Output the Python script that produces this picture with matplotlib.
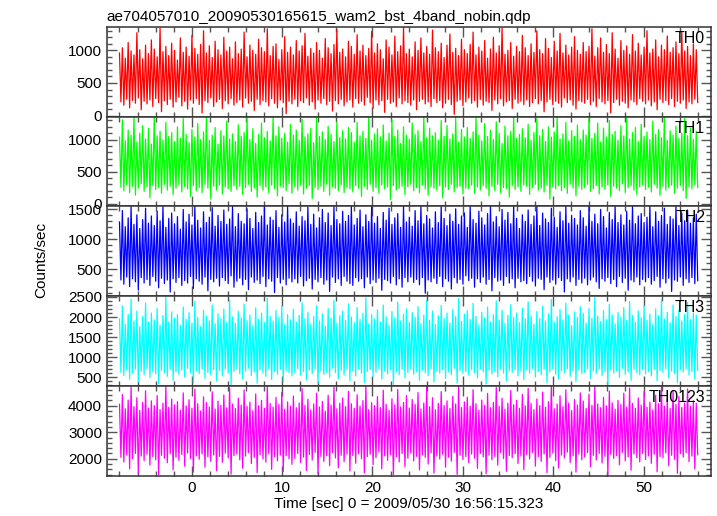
import numpy as np
import matplotlib
matplotlib.use("Agg")
import matplotlib.pyplot as plt
from matplotlib.ticker import MultipleLocator

plt.rcParams['font.family'] = ['Liberation Sans', 'DejaVu Sans']
plt.rcParams['font.size'] = 11

title = "ae704057010_20090530165615_wam2_bst_4band_nobin.qdp"
band_names = ["TH0", "TH1", "TH2", "TH3", "TH0123"]
band_colors = ["#ff0000", "#00ff00", "#0000ff", "#00ffff", "#ff00ff"]
t_start, t_end = -8.0, 56.0

# light curves are far too dense to list bin by bin, so each entry is the
# max / min count rate (counts/sec) seen within a ~0.32 s slice
th0_hi = [960, 1040, 880, 1120, 990, 930, 1270, 1010, 870, 1080, 950, 1160, 1020, 900, 1340, 980, 1060, 920, 1110, 1000,
          850, 1190, 970, 1050, 910, 1230, 1030, 940, 1090, 1300, 960, 1070, 890, 1140, 1010, 930, 1200, 990, 1050, 870,
          1130, 950, 1020, 1280, 900, 1080, 1000, 940, 1170, 1040, 980, 1330, 920, 1060, 1100, 860, 1010, 1210, 970, 1050,
          930, 1150, 990, 1070, 1260, 910, 1030, 960, 1120, 1000, 880, 1180, 1040, 950, 1090, 1320, 970, 1020, 900, 1140,
          1060, 940, 1240, 990, 1080, 920, 1030, 1290, 960, 1100, 1010, 870, 1160, 1050, 930, 1220, 980, 1070, 1350, 950,
          1020, 900, 1130, 1000, 1190, 960, 1060, 940, 1310, 1040, 980, 1110, 890, 1080, 1250, 970, 1030, 920, 1170, 1010,
          950, 1090, 1280, 930, 1050, 990, 1150, 880, 1020, 1200, 960, 1070, 1340, 940, 1000, 1120, 910, 1060, 980, 1230,
          1040, 920, 1100, 970, 1300, 1010, 950, 1180, 1030, 890, 1140, 990, 1260, 960, 1080, 930, 1050, 1210, 1000, 940,
          1120, 980, 1060, 1330, 910, 1040, 1190, 970, 1090, 950, 1270, 1020, 880, 1150, 1000, 1070, 940, 1240, 990, 1110,
          930, 1050, 1300, 960, 1020, 1160, 900, 1080, 1010, 1220, 970, 1040, 1130, 950, 1290, 990, 1060, 920, 1100, 1010]
th0_lo = [210, 160, 250, 120, 230, 190, 270, 90, 220, 180, 240, 140, 260, 200, 60, 230, 170, 250, 130, 210,
          280, 150, 220, 100, 240, 190, 260, 170, 40, 230, 200, 270, 140, 210, 250, 110, 230, 180, 260, 160,
          200, 240, 130, 270, 190, 220, 80, 250, 170, 230, 210, 150, 260, 190, 120, 240, 200, 30, 220, 180,
          250, 140, 230, 200, 270, 160, 210, 100, 240, 190, 260, 170, 220, 70, 230, 180, 250, 150, 210, 240,
          130, 260, 190, 220, 160, 280, 200, 110, 240, 170, 230, 50, 250, 190, 210, 140, 270, 180, 230, 200,
          160, 240, 90, 220, 250, 180, 210, 140, 260, 200, 230, 120, 190, 250, 170, 20, 220, 240, 150, 210,
          270, 190, 230, 130, 250, 160, 220, 200, 80, 240, 180, 260, 150, 210, 230, 110, 250, 190, 220, 170,
          240, 140, 200, 260, 180, 230, 60, 210, 250, 170, 220, 190, 130, 270, 200, 240, 160, 100, 230, 210,
          190, 250, 170, 220, 140, 260, 210, 180, 230, 40, 200, 250, 160, 220, 190, 120, 240, 210, 170, 260,
          220, 180, 240, 150, 210, 90, 250, 200, 230, 170, 260, 140, 220, 190, 240, 110, 210, 180, 250, 200]

th1_hi = [1040, 1310, 980, 1150, 1070, 1360, 960, 1100, 1220, 1010, 1180, 930, 1360, 1060, 1130, 990, 1270, 1050, 1110, 970,
          1200, 1020, 1330, 1080, 950, 1160, 1040, 1250, 1000, 1120, 1360, 990, 1070, 1190, 930, 1140, 1060, 1290, 1010, 1090,
          970, 1230, 1050, 1110, 1360, 1000, 1170, 940, 1080, 1260, 1030, 1130, 980, 1350, 1060, 1200, 1020, 1100, 960, 1240,
          1070, 1150, 990, 1320, 1040, 1090, 1180, 950, 1360, 1050, 1120, 1000, 1210, 1080, 970, 1280, 1030, 1140, 1010, 1190,
          1110, 960, 1270, 1060, 1130, 1020, 1360, 990, 1090, 1170, 1040, 1230, 980, 1100, 1310, 1050, 1150, 940, 1200, 1070,
          1000, 1260, 1080, 1140, 970, 1360, 1030, 1180, 1060, 1110, 990, 1300, 1050, 1220, 1010, 1090, 1340, 960, 1160, 1040,
          1190, 1020, 1120, 1360, 1070, 980, 1250, 1050, 1150, 1000, 1280, 1100, 940, 1210, 1060, 1130, 1360, 1020, 1080, 1170,
          1030, 1240, 990, 1110, 1330, 1060, 1160, 970, 1200, 1040, 1120, 1360, 1010, 1090, 1270, 980, 1140, 1050, 1230, 1000,
          1150, 1070, 1360, 1020, 1100, 1260, 960, 1180, 1040, 1300, 1080, 1130, 990, 1220, 1060, 1360, 1010, 1110, 1190, 970,
          1240, 1050, 1120, 1000, 1290, 1080, 1160, 1030, 1360, 990, 1140, 1070, 1210, 1020, 1100, 1330, 1060, 1180, 1000, 1130]
th1_lo = [250, 200, 290, 170, 270, 130, 240, 310, 190, 260, 90, 280, 220, 250, 160, 300, 210, 270, 140, 240,
          290, 180, 260, 230, 110, 280, 200, 250, 170, 300, 240, 70, 270, 210, 290, 150, 260, 230, 190, 280,
          220, 270, 140, 250, 300, 190, 240, 100, 280, 210, 260, 170, 290, 230, 120, 270, 250, 200, 310, 160,
          260, 210, 290, 150, 240, 280, 80, 250, 220, 270, 190, 300, 130, 260, 240, 200, 290, 170, 250, 230,
          180, 280, 240, 110, 270, 220, 300, 190, 250, 160, 290, 230, 260, 60, 280, 210, 240, 270, 140, 260,
          300, 200, 250, 170, 290, 230, 130, 270, 240, 210, 280, 90, 260, 220, 300, 180, 250, 270, 150, 240,
          230, 290, 160, 260, 210, 280, 240, 120, 270, 200, 300, 170, 250, 230, 100, 280, 220, 260, 190, 290,
          270, 140, 250, 300, 210, 240, 180, 290, 70, 260, 230, 280, 200, 250, 160, 300, 240, 120, 270, 220,
          250, 300, 190, 230, 280, 150, 260, 220, 290, 110, 270, 240, 200, 310, 170, 250, 280, 210, 140, 260,
          290, 220, 260, 180, 300, 240, 130, 270, 210, 250, 290, 160, 240, 280, 200, 80, 260, 230, 290, 250]

th2_hi = [1290, 1480, 1210, 1360, 1550, 1250, 1410, 1180, 1330, 1520, 1270, 1390, 1230, 1470, 1310, 1550, 1200, 1350, 1440, 1260,
          1380, 1170, 1500, 1290, 1420, 1240, 1550, 1320, 1190, 1460, 1280, 1370, 1530, 1220, 1400, 1300, 1490, 1250, 1340, 1550,
          1210, 1430, 1300, 1260, 1510, 1350, 1180, 1450, 1280, 1390, 1550, 1240, 1370, 1320, 1480, 1200, 1410, 1290, 1550, 1340,
          1270, 1460, 1220, 1380, 1310, 1540, 1250, 1420, 1190, 1360, 1500, 1280, 1440, 1230, 1550, 1330, 1260, 1470, 1300, 1400,
          1550, 1240, 1350, 1490, 1210, 1410, 1300, 1550, 1270, 1380, 1180, 1450, 1320, 1520, 1250, 1360, 1430, 1200, 1550, 1290,
          1370, 1220, 1480, 1310, 1550, 1260, 1400, 1340, 1190, 1460, 1280, 1550, 1350, 1230, 1420, 1300, 1510, 1250, 1390, 1440,
          1200, 1550, 1330, 1270, 1470, 1360, 1240, 1430, 1550, 1290, 1380, 1210, 1500, 1320, 1450, 1260, 1550, 1350, 1180, 1410,
          1300, 1490, 1250, 1390, 1550, 1230, 1440, 1340, 1280, 1520, 1370, 1200, 1460, 1310, 1550, 1270, 1400, 1350, 1240, 1480,
          1360, 1220, 1550, 1300, 1420, 1260, 1500, 1380, 1190, 1450, 1330, 1550, 1280, 1410, 1240, 1470, 1320, 1550, 1260, 1390,
          1430, 1280, 1370, 1550, 1210, 1460, 1300, 1400, 1520, 1250, 1380, 1340, 1550, 1230, 1440, 1310, 1490, 1270, 1360, 1420]
th2_lo = [320, 250, 370, 210, 340, 290, 150, 360, 270, 330, 230, 380, 300, 190, 350, 260, 320, 120, 340, 280,
          360, 230, 310, 270, 380, 180, 340, 300, 250, 370, 140, 330, 290, 350, 220, 360, 310, 260, 390, 200,
          300, 350, 240, 330, 160, 370, 280, 320, 260, 380, 210, 340, 300, 110, 360, 270, 330, 240, 350, 290,
          340, 270, 380, 220, 310, 350, 170, 330, 290, 360, 250, 320, 130, 370, 280, 340, 230, 380, 300, 260,
          230, 360, 300, 340, 190, 370, 260, 320, 280, 350, 150, 330, 310, 270, 380, 240, 340, 200, 360, 290,
          370, 280, 330, 240, 360, 100, 320, 290, 350, 260, 380, 210, 340, 300, 170, 360, 270, 330, 250, 390,
          310, 350, 200, 340, 280, 370, 250, 330, 140, 360, 300, 320, 230, 380, 270, 340, 190, 350, 290, 310,
          260, 380, 300, 220, 350, 330, 160, 370, 280, 320, 250, 360, 310, 120, 340, 290, 370, 230, 330, 270,
          350, 240, 320, 370, 290, 180, 340, 300, 360, 260, 330, 210, 380, 280, 350, 150, 320, 290, 370, 240,
          330, 290, 360, 250, 310, 380, 200, 340, 270, 350, 130, 320, 300, 370, 230, 340, 280, 360, 260, 310]

th3_hi = [1950, 2280, 1820, 2070, 2450, 1900, 2150, 1760, 2010, 2350, 1870, 2100, 1930, 2220, 1800, 2040, 2500, 1880, 2130, 1970,
          2060, 1790, 2250, 1940, 2110, 1850, 2390, 1990, 1760, 2170, 2020, 1900, 2300, 1830, 2080, 1960, 2200, 1870, 2430, 2000,
          1840, 2140, 1980, 2320, 1910, 2050, 1780, 2230, 1950, 2100, 1860, 2470, 2020, 1890, 2160, 1990, 2270, 1810, 2060, 1930,
          2190, 1880, 2040, 2360, 1960, 2120, 1820, 2010, 2280, 1900, 2080, 1770, 2210, 1970, 2410, 1850, 2030, 2150, 1920, 2330,
          2000, 1860, 2240, 1940, 2090, 2480, 1830, 2060, 1950, 2180, 1880, 2300, 2010, 1790, 2140, 1980, 2370, 1900, 2070, 2200,
          1870, 2110, 1990, 2260, 1840, 2050, 2420, 1920, 2150, 1810, 2030, 2290, 1960, 2100, 1850, 2190, 2010, 2460, 1890, 2070,
          2160, 1940, 2340, 2020, 1800, 2120, 1970, 2250, 1880, 2060, 2400, 1930, 2170, 1840, 2040, 2310, 1990, 2100, 1860, 2220,
          1950, 2380, 2030, 1820, 2140, 1960, 2270, 1900, 2080, 2440, 1870, 2010, 2190, 1930, 2350, 2050, 1780, 2130, 1990, 2260,
          2090, 1850, 2210, 1970, 2490, 2020, 1890, 2160, 1940, 2320, 2060, 1830, 2110, 2000, 2240, 1910, 2390, 2040, 1870, 2150,
          1980, 2280, 1920, 2070, 1810, 2200, 2030, 2430, 1950, 2120, 1860, 2300, 2010, 2170, 1900, 2060, 2360, 1940, 2100, 2050]
th3_lo = [620, 540, 680, 450, 600, 700, 380, 650, 560, 710, 490, 630, 580, 330, 670, 610, 520, 690, 420, 640,
          570, 680, 500, 720, 610, 360, 650, 590, 700, 470, 620, 560, 690, 400, 660, 530, 710, 600, 310, 640,
          690, 580, 460, 650, 720, 540, 630, 350, 680, 600, 520, 700, 440, 640, 570, 690, 390, 660, 610, 530,
          600, 710, 550, 640, 430, 680, 590, 700, 340, 650, 570, 620, 500, 730, 610, 460, 670, 550, 690, 410,
          660, 530, 700, 600, 370, 640, 690, 510, 620, 720, 450, 650, 580, 680, 320, 630, 560, 700, 480, 610,
          700, 570, 640, 420, 680, 610, 540, 710, 380, 650, 600, 690, 470, 630, 560, 720, 350, 660, 590, 640,
          550, 690, 610, 480, 700, 630, 330, 670, 580, 640, 510, 710, 600, 400, 660, 620, 690, 530, 650, 440,
          680, 600, 720, 500, 640, 560, 690, 360, 630, 700, 570, 450, 660, 610, 710, 520, 650, 390, 680, 590,
          620, 710, 470, 660, 590, 700, 540, 640, 310, 680, 600, 650, 490, 720, 570, 630, 420, 690, 610, 560,
          700, 580, 640, 530, 690, 410, 660, 620, 710, 480, 650, 590, 360, 680, 630, 700, 550, 640, 450, 670]

th0123_hi = [4050, 4420, 3880, 4210, 4700, 3960, 4300, 3820, 4120, 4560, 3910, 4180, 4000, 4380, 3850, 4090, 4740, 3940, 4250, 4030,
             4150, 3830, 4480, 3990, 4220, 3900, 4620, 4070, 3800, 4330, 4110, 3950, 4520, 3870, 4170, 4010, 4400, 3920, 4680, 4060,
             3890, 4280, 4020, 4590, 3970, 4130, 3810, 4440, 4000, 4200, 3900, 4740, 4080, 3940, 4310, 4040, 4500, 3860, 4140, 3980,
             4360, 3920, 4100, 4640, 4010, 4240, 3840, 4060, 4470, 3950, 4160, 3790, 4390, 4020, 4700, 3880, 4090, 4290, 3960, 4540,
             4070, 3900, 4410, 3980, 4190, 4740, 3850, 4110, 4000, 4340, 3930, 4580, 4050, 3820, 4260, 4030, 4610, 3950, 4120, 4380,
             3910, 4230, 4040, 4490, 3870, 4100, 4720, 3960, 4300, 3840, 4080, 4530, 4000, 4180, 3890, 4350, 4060, 4740, 3930, 4140,
             4320, 3980, 4600, 4070, 3830, 4210, 4010, 4460, 3920, 4120, 4690, 3970, 4280, 3860, 4090, 4570, 4030, 4200, 3900, 4420,
             3990, 4650, 4080, 3850, 4250, 4000, 4510, 3940, 4150, 4740, 3880, 4060, 4370, 3960, 4600, 4100, 3810, 4230, 4020, 4480,
             4170, 3890, 4430, 4010, 4740, 4060, 3920, 4310, 3990, 4550, 4110, 3860, 4200, 4040, 4470, 3950, 4660, 4080, 3900, 4290,
             4020, 4520, 3940, 4130, 3840, 4390, 4070, 4720, 3980, 4240, 3890, 4570, 4050, 4340, 3930, 4100, 4630, 3970, 4180, 4090]
th0123_lo = [2050, 1880, 2150, 1620, 2000, 2200, 1450, 2100, 1930, 2170, 1760, 2080, 1960, 1400, 2130, 2020, 1850, 2190, 1580, 2060,
             1940, 2160, 1720, 2220, 2010, 1500, 2110, 1980, 2180, 1680, 2070, 1900, 2140, 1550, 2090, 1870, 2210, 2030, 1420, 2120,
             2170, 1960, 1640, 2100, 2230, 1820, 2050, 1480, 2150, 1990, 1870, 2190, 1600, 2080, 1920, 2140, 1520, 2110, 2000, 1790,
             2010, 2200, 1860, 2060, 1560, 2160, 1950, 2240, 1430, 2090, 1900, 2120, 1740, 2230, 2030, 1660, 2130, 1890, 2180, 1540,
             2120, 1830, 2190, 2000, 1470, 2080, 2170, 1780, 2040, 2250, 1620, 2110, 1940, 2160, 1390, 2070, 1880, 2200, 1700, 2020,
             2210, 1920, 2090, 1580, 2150, 2050, 1800, 2230, 1460, 2100, 1990, 2170, 1680, 2060, 1910, 2240, 1410, 2130, 1970, 2080,
             1850, 2180, 2020, 1640, 2200, 2070, 1440, 2140, 1960, 2090, 1760, 2230, 2010, 1530, 2120, 2040, 2190, 1820, 2100, 1590,
             2160, 1990, 2240, 1720, 2080, 1900, 2180, 1480, 2050, 2210, 1930, 1650, 2140, 2030, 2250, 1860, 2110, 1500, 2170, 1960,
             2060, 2230, 1690, 2130, 1950, 2200, 1840, 2090, 1400, 2160, 2010, 2120, 1770, 2240, 1920, 2070, 1570, 2180, 2040, 1880,
             2200, 1970, 2110, 1830, 2170, 1510, 2080, 2040, 2220, 1740, 2130, 1980, 1450, 2190, 2060, 2230, 1890, 2100, 1610, 2150]

highs = [th0_hi, th1_hi, th2_hi, th3_hi, th0123_hi]
lows = [th0_lo, th1_lo, th2_lo, th3_lo, th0123_lo]
ylims = [(-15, 1360), (-45, 1360), (50, 1550), (280, 2520), (1360, 4740)]
ymajor = [500, 500, 500, 500, 1000]
yminor = [100, 100, 100, 100, 200]

fig, axes = plt.subplots(5, 1, sharex=True, figsize=(7.17, 5.16), dpi=100)
fig.subplots_adjust(left=0.149, right=0.992, top=0.948, bottom=0.078, hspace=0)

for ax, hi, lo, name, col, yl, ma, mi in zip(axes, highs, lows, band_names, band_colors, ylims, ymajor, yminor):
    # trace max -> min -> max ... so the curve sweeps the full range of every slice
    y = np.column_stack((hi, lo)).ravel()
    t = np.linspace(t_start, t_end, len(y))
    ax.plot(t, y, color=col, lw=0.9)
    ax.set_ylim(*yl)
    ax.set_xlim(-9.4, 57.5)
    ax.yaxis.set_major_locator(MultipleLocator(ma))
    ax.yaxis.set_minor_locator(MultipleLocator(mi))
    ax.xaxis.set_major_locator(MultipleLocator(10))
    ax.xaxis.set_minor_locator(MultipleLocator(2))
    ax.tick_params(which='both', direction='in', top=True, right=True, color='#555555', width=1)
    ax.tick_params(which='major', length=7, labelsize=11)
    ax.tick_params(which='minor', length=3.5)
    for s in ax.spines.values():
        s.set_color('#333333')
        s.set_linewidth(1.1)
    ax.text(0.99, 0.955, name, transform=ax.transAxes, ha='right', va='top', fontsize=11.5)

axes[0].set_title(title, loc='left', fontsize=11, pad=4)
axes[-1].set_xlabel("Time [sec] 0 = 2009/05/30 16:56:15.323", fontsize=11, labelpad=2)
fig.text(0.057, 0.497, "Counts/sec", rotation=90, ha='center', va='center', fontsize=11)

fig.savefig("out.png", dpi=100)
